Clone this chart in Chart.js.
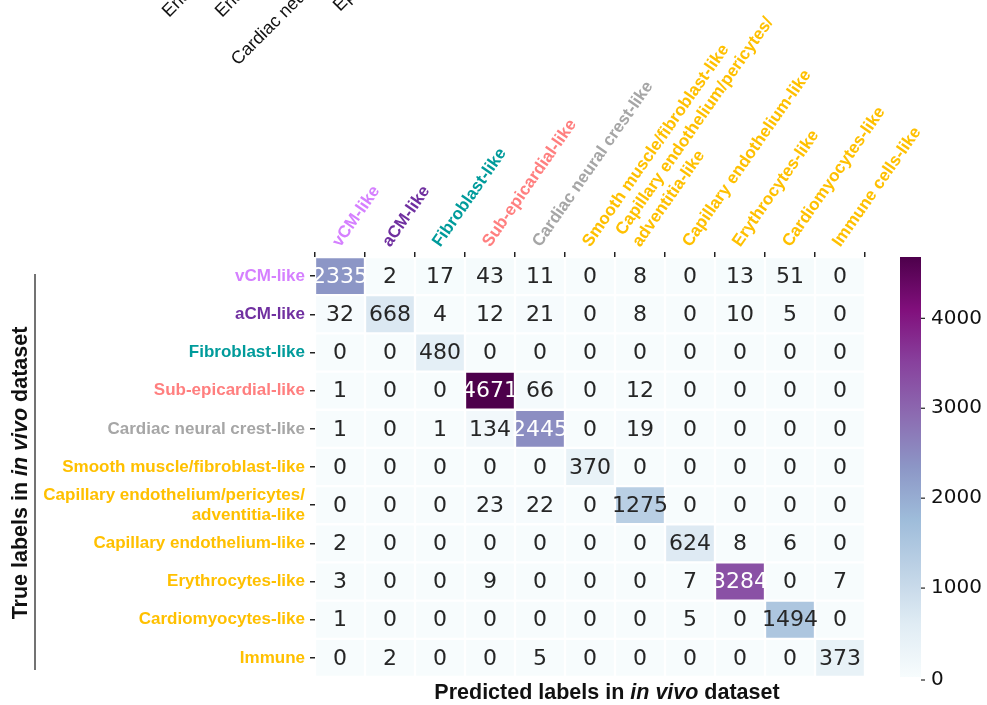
<!DOCTYPE html>
<html>
<head>
<meta charset="utf-8">
<script src="https://cdn.jsdelivr.net/npm/chart.js@4"></script>
<style>
  body { margin: 0; background: #fff; }
</style>
</head>
<body>
<canvas id="myChart" width="987" height="705"></canvas>
<script>
const rowLabels = ["vCM-like", "aCM-like", "Fibroblast-like", "Sub-epicardial-like", "Cardiac neural crest-like",
	"Smooth muscle/fibroblast-like", ["Capillary endothelium/pericytes/", "adventitia-like"],
	"Capillary endothelium-like", "Erythrocytes-like", "Cardiomyocytes-like", "Immune"];
const colLabels = ["vCM-like", "aCM-like", "Fibroblast-like", "Sub-epicardial-like", "Cardiac neural crest-like",
	"Smooth muscle/fibroblast-like", ["Capillary endothelium/pericytes/", "adventitia-like"],
	"Capillary endothelium-like", "Erythrocytes-like", "Cardiomyocytes-like", "Immune cells-like"];
const labelColors = ["#d580ff", "#7030a0", "#009b9b", "#ff7f7f", "#a6a6a6",
	"#ffc000", "#ffc000", "#ffc000", "#ffc000", "#ffc000", "#ffc000"];

const counts = [
	[2335, 2, 17, 43, 11, 0, 8, 0, 13, 51, 0],
	[32, 668, 4, 12, 21, 0, 8, 0, 10, 5, 0],
	[0, 0, 480, 0, 0, 0, 0, 0, 0, 0, 0],
	[1, 0, 0, 4671, 66, 0, 12, 0, 0, 0, 0],
	[1, 0, 1, 134, 2445, 0, 19, 0, 0, 0, 0],
	[0, 0, 0, 0, 0, 370, 0, 0, 0, 0, 0],
	[0, 0, 0, 23, 22, 0, 1275, 0, 0, 0, 0],
	[2, 0, 0, 0, 0, 0, 0, 624, 8, 6, 0],
	[3, 0, 0, 9, 0, 0, 0, 7, 3284, 0, 7],
	[1, 0, 0, 0, 0, 0, 0, 5, 0, 1494, 0],
	[0, 2, 0, 0, 5, 0, 0, 0, 0, 0, 373],
];
const colorbarTicks = [0, 1000, 2000, 3000, 4000];
// labels of the neighbouring panel, cut off at the top edge
const cutLabels = ["Endocardial-like", "Endothelial-like", "Cardiac neural crest-like", "Epicardial-like"];

const vmax = Math.max(...counts.flat());
const bupu = ["#f7fcfd", "#e0ecf4", "#bfd3e6", "#9ebcda", "#8c96c6", "#8c6bb1", "#88419d", "#810f7c", "#4d004b"];

function hexRgb(h) {
	return [parseInt(h.slice(1, 3), 16), parseInt(h.slice(3, 5), 16), parseInt(h.slice(5, 7), 16)];
}
function cmap(v) {
	const t = Math.min(Math.max(v / vmax, 0), 1) * (bupu.length - 1);
	const i = Math.min(Math.floor(t), bupu.length - 2);
	const f = t - i;
	const a = hexRgb(bupu[i]), b = hexRgb(bupu[i + 1]);
	const c = a.map((x, k) => Math.round(x + (b[k] - x) * f));
	return `rgb(${c[0]}, ${c[1]}, ${c[2]})`;
}

const datasets = counts.map((row, r) => ({
	data: row.map(() => [r, r + 1]),
	backgroundColor: row.map(cmap),
	borderColor: "#ffffff",
	borderWidth: 1.5,
	borderSkipped: false,
	grouped: false,
	barPercentage: 1,
	categoryPercentage: 1,
}));

function drawMixed(ctx, parts, x, y, angle) {
	ctx.save();
	ctx.translate(x, y);
	ctx.rotate(angle);
	ctx.textBaseline = "middle";
	ctx.textAlign = "left";
	let total = 0;
	parts.forEach(p => { ctx.font = p[1]; total += ctx.measureText(p[0]).width; });
	let pos = -total / 2;
	parts.forEach(p => {
		ctx.font = p[1];
		ctx.fillText(p[0], pos, 0);
		pos += ctx.measureText(p[0]).width;
	});
	ctx.restore();
}

const heatmapExtras = {
	id: "heatmapExtras",
	afterDatasetsDraw(chart) {
		const ctx = chart.ctx;
		ctx.save();
		ctx.font = '22px "DejaVu Sans"';
		ctx.textAlign = "center";
		ctx.textBaseline = "middle";
		counts.forEach((row, r) => {
			const meta = chart.getDatasetMeta(r);
			row.forEach((v, c) => {
				const p = meta.data[c].getCenterPoint();
				ctx.fillStyle = v > 2000 ? "#ffffff" : "#262626";
				ctx.fillText(String(v), p.x, p.y + 1);
			});
		});
		ctx.restore();
	},
	afterDraw(chart) {
		const ctx = chart.ctx;
		const area = chart.chartArea;
		const cb = chart.scales.cb;

		// colorbar
		const x0 = area.right + 35, w = 21;
		const yTop = cb.getPixelForValue(vmax), yBot = cb.getPixelForValue(0);
		const grad = ctx.createLinearGradient(0, yBot, 0, yTop);
		bupu.forEach((c, i) => grad.addColorStop(i / (bupu.length - 1), c));
		ctx.save();
		ctx.fillStyle = grad;
		ctx.fillRect(x0, yTop, w, yBot - yTop);
		ctx.strokeStyle = "#222";
		ctx.lineWidth = 1.2;
		ctx.fillStyle = "#111";
		ctx.font = '20px "DejaVu Sans"';
		ctx.textAlign = "left";
		ctx.textBaseline = "middle";
		colorbarTicks.forEach(t => {
			const y = cb.getPixelForValue(t) + (t === 0 ? 3 : 1);
			ctx.beginPath();
			ctx.moveTo(x0 + w, y);
			ctx.lineTo(x0 + w + 4, y);
			ctx.stroke();
			ctx.fillText(String(t), x0 + w + 10, y);
		});

		// axis titles
		ctx.fillStyle = "#111";
		const b = 'bold 21.5px "Liberation Sans"', bi = 'italic bold 21.5px "Liberation Sans"';
		drawMixed(ctx, [["Predicted labels in ", b], ["in vivo", bi], [" dataset", b]], 607, 693, 0);
		drawMixed(ctx, [["True labels in ", b], ["in vivo", bi], [" dataset", b]], 21, 473, -Math.PI / 2);

		// spine next to the y title
		ctx.strokeStyle = "#444";
		ctx.lineWidth = 1.5;
		ctx.beginPath();
		ctx.moveTo(35, 274);
		ctx.lineTo(35, 670);
		ctx.stroke();

		// cut-off labels of the panel above
		ctx.font = '18px "Liberation Sans"';
		ctx.fillStyle = "#111";
		ctx.textBaseline = "alphabetic";
		const starts = [[169, 18], [222, 18], [238, 66], [340, 12]];
		cutLabels.forEach((t, i) => {
			ctx.save();
			ctx.translate(starts[i][0], starts[i][1]);
			ctx.rotate(-Math.PI / 4);
			ctx.fillText(t, 0, 0);
			ctx.restore();
		});
		ctx.restore();
	},
};

const heatCanvas = document.getElementById("myChart");

const myChart = new Chart(heatCanvas, {
	type: "bar",
	data: {
		labels: colLabels,
		datasets: datasets,
	},
	options: {
		responsive: false,
		animation: false,
		layout: {
			padding: { left: 0, top: 0, right: 122, bottom: 28 }
		},
		plugins: {
			legend: { display: false },
			tooltip: { enabled: false },
		},
		scales: {
			x: {
				position: "top",
				offset: true,
				afterFit: (scale) => { scale.height = 257; },
				border: { display: false },
				grid: {
					drawOnChartArea: false,
					tickLength: 5,
					color: "#222",
					lineWidth: 1.5,
				},
				ticks: {
					autoSkip: false,
					minRotation: 55,
					maxRotation: 55,
					padding: 1,
					labelOffset: 13,
					color: (ctx) => labelColors[ctx.index],
					font: { family: "Liberation Sans", weight: "bold", size: 17 },
				},
			},
			y: {
				min: 0,
				max: 11,
				reverse: true,
				afterFit: (scale) => { scale.width = 315; },
				afterBuildTicks: (scale) => {
					scale.ticks = rowLabels.map((_, i) => ({ value: i + 0.5 }));
				},
				border: { display: false },
				grid: {
					drawOnChartArea: false,
					tickLength: 5,
					color: "#222",
					lineWidth: 1.5,
				},
				ticks: {
					autoSkip: false,
					padding: 5,
					callback: (v) => rowLabels[Math.floor(v)],
					color: (ctx) => labelColors[ctx.index],
					font: { family: "Liberation Sans", weight: "bold", size: 17 },
				},
			},
			cb: {
				type: "linear",
				position: "right",
				display: false,
				min: 0,
				max: vmax,
			},
		},
	},
	plugins: [heatmapExtras],
});
</script>
</body>
</html>
